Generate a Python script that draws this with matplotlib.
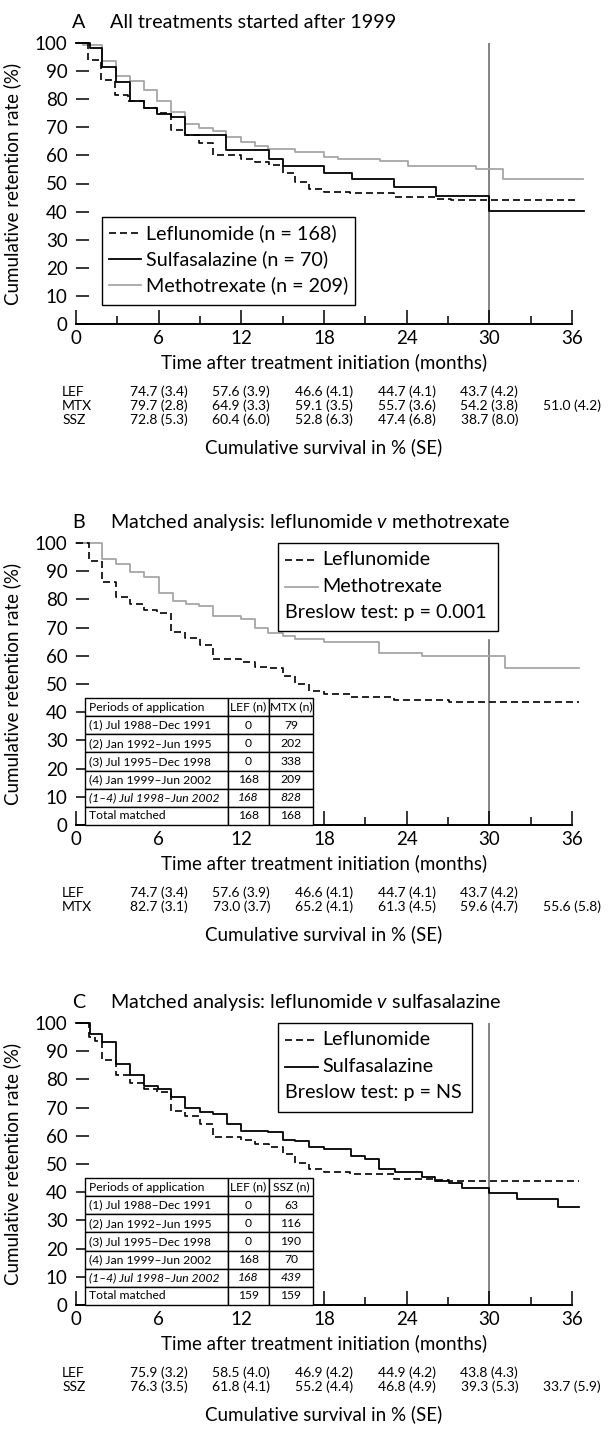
import numpy as np
import matplotlib
matplotlib.use('agg')
import matplotlib.pyplot as plt
from matplotlib.patches import Rectangle
from matplotlib.lines import Line2D

plt.rcParams['font.family'] = ['Lato', 'DejaVu Sans']
plt.rcParams['mathtext.fontset'] = 'custom'
plt.rcParams['mathtext.rm'] = 'Lato'
plt.rcParams['mathtext.it'] = 'Lato:italic'

# ---- Kaplan-Meier step curves (time in months, retention %) ----
a_lef_t = [0, 0.85, 1.8, 2.82, 3.8, 4.9, 5.9, 6.9, 7.9, 8.95, 9.95, 12.0, 13.0, 14.0, 15.0, 15.9, 16.9, 18.0, 19.9, 23.1, 26.1, 27.2]
a_lef_s = [100, 94.1, 86.9, 81.6, 79.2, 77.0, 75.0, 69.1, 67.1, 64.4, 60.0, 58.6, 57.5, 56.6, 53.7, 50.7, 48.1, 47.1, 46.6, 45.1, 44.5, 44.2]
a_lef_end = 36.4
a_ssz_t = [0, 1.04, 1.9, 2.9, 3.9, 4.9, 5.9, 6.9, 7.9, 10.9, 14.0, 15.0, 18.0, 20.0, 23.1, 26.1, 30.0]
a_ssz_s = [100, 98.1, 91.4, 86.2, 79.2, 76.8, 74.7, 73.6, 67.1, 61.8, 58.7, 56.4, 53.9, 51.7, 48.7, 45.4, 40.2]
a_ssz_end = 36.9
a_mtx_t = [0, 0.5, 1.9, 2.9, 3.9, 4.9, 5.9, 6.9, 7.9, 8.95, 9.95, 10.9, 11.98, 12.97, 13.96, 15.93, 18.0, 19.0, 22.1, 24.1, 29.0, 31.0]
a_mtx_s = [100, 99.2, 93.7, 88.4, 86.4, 83.1, 79.2, 75.3, 71.1, 69.9, 68.7, 66.5, 64.6, 63.2, 62.2, 61.2, 59.6, 58.8, 58.0, 56.3, 55.0, 51.7]
a_mtx_end = 36.8

b_lef_t = [0, 0.93, 1.9, 2.9, 3.9, 4.9, 5.9, 6.9, 7.9, 9.0, 9.95, 12.0, 13.0, 14.0, 15.0, 15.9, 16.9, 18.0, 19.9, 23.1, 27.1]
b_lef_s = [100, 93.5, 86.1, 80.9, 78.3, 76.3, 75.0, 68.3, 66.3, 63.7, 59.0, 57.9, 56.2, 55.5, 53.0, 50.0, 47.6, 46.5, 45.5, 44.4, 43.5]
b_lef_end = 36.5
b_mtx_t = [0, 1.9, 2.9, 3.95, 4.9, 6.06, 7.04, 8.02, 8.95, 9.95, 11.98, 12.97, 13.96, 15.0, 15.93, 17.99, 22.0, 25.1, 31.15]
b_mtx_s = [100, 94.4, 92.5, 89.6, 88.0, 82.2, 79.5, 78.5, 77.5, 74.2, 73.0, 69.7, 68.0, 67.0, 66.0, 65.0, 61.1, 60.0, 55.6]
b_mtx_end = 36.5

c_lef_t = [0, 0.93, 1.4, 1.9, 2.9, 3.9, 4.9, 5.9, 6.9, 7.9, 9.0, 9.95, 12.0, 13.0, 14.0, 15.0, 15.9, 16.9, 18.0, 19.9, 23.1, 26.1, 27.1]
c_lef_s = [100, 95.0, 93.7, 87.0, 81.5, 78.9, 76.6, 75.6, 68.9, 66.9, 64.3, 59.6, 58.6, 57.2, 56.2, 53.5, 50.5, 48.2, 47.1, 46.4, 44.7, 44.4, 44.1]
c_lef_end = 36.5
c_ssz_t = [0, 1.04, 1.89, 2.9, 3.89, 4.93, 5.92, 6.91, 7.89, 9.02, 9.95, 10.94, 11.98, 13.96, 15.0, 15.93, 16.92, 17.99, 19.96, 21.0, 21.99, 23.12, 25.09, 26.08, 27.07, 28.05, 30.0, 32.0, 34.96]
c_ssz_s = [100, 96.0, 93.4, 85.4, 81.5, 77.5, 76.6, 73.6, 69.7, 68.4, 67.7, 64.3, 61.8, 61.2, 58.6, 58.0, 56.0, 55.4, 53.0, 51.8, 48.4, 47.2, 45.4, 43.8, 43.4, 41.4, 39.6, 37.5, 34.7]
c_ssz_end = 36.5

# ---- survival tables under each panel ----
table_months = [6, 12, 18, 24, 30, 36]
a_lef_tab = ["74.7 (3.4)", "57.6 (3.9)", "46.6 (4.1)", "44.7 (4.1)", "43.7 (4.2)"]
a_mtx_tab = ["79.7 (2.8)", "64.9 (3.3)", "59.1 (3.5)", "55.7 (3.6)", "54.2 (3.8)", "51.0 (4.2)"]
a_ssz_tab = ["72.8 (5.3)", "60.4 (6.0)", "52.8 (6.3)", "47.4 (6.8)", "38.7 (8.0)"]
b_lef_tab = ["74.7 (3.4)", "57.6 (3.9)", "46.6 (4.1)", "44.7 (4.1)", "43.7 (4.2)"]
b_mtx_tab = ["82.7 (3.1)", "73.0 (3.7)", "65.2 (4.1)", "61.3 (4.5)", "59.6 (4.7)", "55.6 (5.8)"]
c_lef_tab = ["75.9 (3.2)", "58.5 (4.0)", "46.9 (4.2)", "44.9 (4.2)", "43.8 (4.3)"]
c_ssz_tab = ["76.3 (3.5)", "61.8 (4.1)", "55.2 (4.4)", "46.8 (4.9)", "39.3 (5.3)", "33.7 (5.9)"]

# ---- inset tables (matched analyses) ----
periods = ["(1) Jul 1988–Dec 1991", "(2) Jan 1992–Jun 1995", "(3) Jul 1995–Dec 1998",
           "(4) Jan 1999–Jun 2002", "(1–4) Jul 1998–Jun 2002", "Total matched"]
b_lef_n = [0, 0, 0, 168, 168, 168]
b_mtx_n = [79, 202, 338, 209, 828, 168]
c_lef_n = [0, 0, 0, 168, 168, 159]
c_ssz_n = [63, 116, 190, 70, 439, 159]

GRAY = '#a6a6a6'
VLINE = '#707070'
DASH = (0, (4.2, 2.4))
FS = 13.5     # axis text
FS_LEG = 14.2  # legend / title text
FS_TAB = 10    # survival rows
FS_IN = 8.7    # inset table

fig = plt.figure(figsize=(6.1, 14.41), dpi=100)
W, H = 610.0, 1441.0


def make_axes(top, bottom, left=76, right=572):
    return fig.add_axes([left / W, 1 - bottom / H, (right - left) / W, (bottom - top) / H])


def km(ax, t, s, end, **kw):
    ax.step(list(t) + [end], list(s) + [s[-1]], where='post', clip_on=False, **kw)


def style(ax, vline_top=100):
    ax.set_xlim(0, 36)
    ax.set_ylim(0, 100)
    for sp in ['top', 'right', 'left']:
        ax.spines[sp].set_visible(False)
    ax.spines['bottom'].set_linewidth(1.4)
    ax.set_xticks(np.arange(0, 37, 6))
    ax.set_xticks(np.arange(3, 36, 6), minor=True)
    ax.set_yticks(np.arange(0, 101, 10))
    ax.tick_params(axis='x', which='major', direction='in', length=10, width=1.1, pad=4, labelsize=FS)
    ax.tick_params(axis='x', which='minor', direction='in', length=5.5, width=1.1)
    ax.tick_params(axis='y', direction='in', length=9, width=1.1, pad=6, labelsize=FS)
    ax.axvline(30, ymin=0, ymax=vline_top / 100, color=VLINE, lw=1.2, zorder=1)
    ax.set_xlabel('Time after treatment initiation (months)', fontsize=FS, labelpad=5)
    ax.set_ylabel('Cumulative retention rate (%)', fontsize=FS)
    ax.yaxis.set_label_coords(-0.111, 0.5)


def title(ax, letter, text):
    ax.text(-0.008, 1.073, letter, transform=ax.transAxes, fontsize=FS_LEG, va='center', ha='left')
    ax.text(0.068, 1.073, text, transform=ax.transAxes, fontsize=FS_LEG, va='center', ha='left')


def legend_box(ax, box, entries, note=None):
    x0, y0, x1, y1 = box
    ax.add_patch(Rectangle((x0, y0), x1 - x0, y1 - y0, transform=ax.transAxes,
                           fill=True, facecolor='white', edgecolor='black', lw=1.0, zorder=5, clip_on=False))
    for (yy, label, kw) in entries:
        ax.add_line(Line2D([x0 + 0.015, x0 + 0.08], [yy, yy], transform=ax.transAxes, zorder=6, **kw))
        ax.text(x0 + 0.09, yy, label, transform=ax.transAxes, fontsize=FS_LEG, va='center', ha='left', zorder=6)
    if note:
        ax.text(x0 + 0.015, note[0], note[1], transform=ax.transAxes, fontsize=FS_LEG, va='center', ha='left', zorder=6)


def survival_rows(ax, rows, n):
    offs = [68, 82, 96]
    for i, (lab, vals) in enumerate(rows):
        dy = -offs[i] * 0.72
        ax.annotate(lab, xy=(-1.0, 0), xycoords=('data', 'axes fraction'), xytext=(0, dy),
                    textcoords='offset points', ha='left', va='center', fontsize=FS_TAB, annotation_clip=False)
        for m, v in zip(table_months, vals):
            ax.annotate(v, xy=(m, 0), xycoords=('data', 'axes fraction'), xytext=(0, dy),
                        textcoords='offset points', ha='center', va='center', fontsize=FS_TAB, annotation_clip=False)
    ax.annotate('Cumulative survival in % (SE)', xy=(0.5, 0), xycoords='axes fraction',
                xytext=(0, -(offs[n - 1] + 27) * 0.72), textcoords='offset points',
                ha='center', va='center', fontsize=FS, annotation_clip=False)


def inset_table(ax, col2, col3, hdr3):
    cells = [["Periods of application", "LEF (n)", hdr3]]
    for p, a, b in zip(periods, col2, col3):
        cells.append([p, str(a), str(b)])
    x0, x1 = 0.65 / 36, 17.2 / 36
    tab = ax.table(cellText=cells, colWidths=[10.35, 3.0, 3.2], bbox=[x0, 0, x1 - x0, 0.45],
                   cellLoc='center', zorder=6)
    tab.auto_set_font_size(False)
    for (r, c), cell in tab.get_celld().items():
        cell.set_fontsize(FS_IN)
        cell.set_linewidth(1.0)
        cell.set_edgecolor('black')
        if c == 0:
            cell.get_text().set_ha('left')
            cell.PAD = 0.025
        if r == 5:
            cell.get_text().set_fontstyle('italic')


# ---------------- Panel A ----------------
axA = make_axes(43, 324)
km(axA, a_mtx_t, a_mtx_s, a_mtx_end, color=GRAY, lw=1.3, zorder=2)
km(axA, a_ssz_t, a_ssz_s, a_ssz_end, color='black', lw=1.3, zorder=3)
km(axA, a_lef_t, a_lef_s, a_lef_end, color='black', lw=1.2, linestyle=DASH, zorder=3)
style(axA)
title(axA, 'A', 'All treatments started after 1999')
legend_box(axA, (0.052, 0.068, 0.5625, 0.381),
           [(0.324, 'Leflunomide (n = 168)', dict(color='black', lw=1.2, linestyle=DASH)),
            (0.231, 'Sulfasalazine (n = 70)', dict(color='black', lw=1.3)),
            (0.139, 'Methotrexate (n = 209)', dict(color=GRAY, lw=1.3))])
survival_rows(axA, [('LEF', a_lef_tab), ('MTX', a_mtx_tab), ('SSZ', a_ssz_tab)], 3)

# ---------------- Panel B ----------------
axB = make_axes(543, 825)
km(axB, b_mtx_t, b_mtx_s, b_mtx_end, color=GRAY, lw=1.3, zorder=2)
km(axB, b_lef_t, b_lef_s, b_lef_end, color='black', lw=1.2, linestyle=DASH, zorder=3)
style(axB, vline_top=65.6)
title(axB, 'B', r'Matched analysis: leflunomide $\it{v}$ methotrexate')
legend_box(axB, (0.407, 0.688, 0.851, 1.0),
           [(0.94, 'Leflunomide', dict(color='black', lw=1.2, linestyle=DASH)),
            (0.844, 'Methotrexate', dict(color=GRAY, lw=1.3))],
           note=(0.752, 'Breslow test: p = 0.001'))
inset_table(axB, b_lef_n, b_mtx_n, 'MTX (n)')
survival_rows(axB, [('LEF', b_lef_tab), ('MTX', b_mtx_tab)], 2)

# ---------------- Panel C ----------------
axC = make_axes(1023, 1305)
km(axC, c_ssz_t, c_ssz_s, c_ssz_end, color='black', lw=1.3, zorder=3)
km(axC, c_lef_t, c_lef_s, c_lef_end, color='black', lw=1.2, linestyle=DASH, zorder=3)
style(axC)
title(axC, 'C', r'Matched analysis: leflunomide $\it{v}$ sulfasalazine')
legend_box(axC, (0.407, 0.684, 0.798, 1.0),
           [(0.94, 'Leflunomide', dict(color='black', lw=1.2, linestyle=DASH)),
            (0.844, 'Sulfasalazine', dict(color='black', lw=1.3))],
           note=(0.752, 'Breslow test: p = NS'))
inset_table(axC, c_lef_n, c_ssz_n, 'SSZ (n)')
survival_rows(axC, [('LEF', c_lef_tab), ('SSZ', c_ssz_tab)], 2)

fig.savefig('out.png', dpi=100)
